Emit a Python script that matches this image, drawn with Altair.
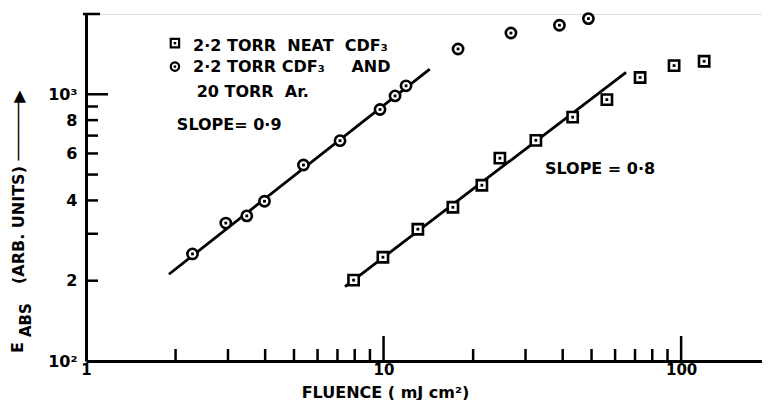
import altair as alt
import pandas as pd

# ---- data ----
# 2.2 Torr CDF3 + 20 Torr Ar (circles)
circ_x = [2.28, 2.95, 3.47, 3.98, 5.38, 7.14, 9.73, 10.93, 11.9, 17.8, 26.8, 39.0, 48.8]
circ_y = [252, 329, 350, 397, 543, 670, 877, 986, 1076, 1479, 1697, 1815, 1922]
# 2.2 Torr neat CDF3 (squares)
sq_x = [7.93, 9.95, 13.04, 17.1, 21.4, 24.6, 32.5, 43.2, 56.3, 72.8, 94.7, 119.5]
sq_y = [201, 245, 312, 377, 456, 576, 672, 821, 955, 1156, 1281, 1330]
# fitted lines (end points)
fit_circ_x = [1.90, 14.3]
fit_circ_y = [211.5, 1243]
fit_sq_x = [7.42, 65.3]
fit_sq_y = [190, 1208]

# axis ticks / labels
x_label_vals = [1, 10, 100]
x_minor = [2, 3, 4, 5, 6, 7, 8, 9, 20, 30, 40, 50, 60, 70, 80, 90]
x_major = [10, 100]
y_label_vals = [100, 200, 400, 600, 800, 1000]
y_minor = [200, 300, 400, 500, 600, 700, 800, 900]
y_major = [1000]
y_top = [2000]

# legend / annotations
leg_sym_x = [1.99, 1.99]
leg_sym_y = [1555, 1270]
leg_sym_s = ["s", "c"]
ann_text = ["2·2 TORR\u00a0 NEAT\u00a0 CDF₃", "2·2 TORR CDF₃", "AND", "20 TORR\u00a0 Ar.", "SLOPE= 0·9", "SLOPE = 0·8"]
ann_x = [2.29, 2.29, 7.8, 2.355, 2.02, 34.85]
ann_y = [1521, 1262, 1262, 1022, 769, 525]

x_title = "FLUENCE ( mJ cm²)"
y_title_e = "E"
y_title_sub = "ABS"
y_title_rest = "(ARB. UNITS) ──────▶"

# ---- chart ----
W, H = 676, 347
FONT = "DejaVu Sans"
xs = alt.Scale(type="log", domain=[1, 187])
ys = alt.Scale(type="log", domain=[100, 2000])

x_axis = alt.Axis(
    values=x_label_vals, format="d", ticks=False, grid=False,
    domainWidth=3, domainColor="black", labelFlush=False, labelOverlap=False,
    labelFont=FONT, labelFontSize=15, labelFontWeight="bold", labelColor="black",
    labelPadding=1, title=x_title, titleX=299, titleY=39, titleBaseline="bottom",
    titleAlign="center", titleFont=FONT, titleFontSize=16, titleFontWeight="bold",
    titleColor="black")
y_axis = alt.Axis(
    values=y_label_vals, ticks=False, grid=False, domainWidth=3, domainColor="black",
    labelExpr="datum.value == 1000 ? '10³' : datum.value == 100 ? '10²' : format(datum.value / 100, 'd')",
    labelFlush=False, labelOverlap=False,
    labelFont=FONT, labelFontSize=16, labelFontWeight="bold", labelColor="black",
    labelPadding=9, title=None)


def X(field):
    return alt.X(field, scale=xs, axis=x_axis, title=x_title)


def Y(field):
    return alt.Y(field, scale=ys, axis=y_axis, title=None)


base = alt.Chart(pd.DataFrame({"x": [1], "y": [100]})).mark_point(opacity=0).encode(
    x=X("x:Q"), y=Y("y:Q"))


def xr(vals, length):
    return alt.Chart(pd.DataFrame({"x": vals})).mark_rule(color="black", strokeWidth=2.5).encode(
        x=X("x:Q"), y=alt.value(H), y2=alt.value(H - length))


def yr(vals, x0, length):
    return alt.Chart(pd.DataFrame({"y": vals})).mark_rule(color="black", strokeWidth=2.5).encode(
        y=Y("y:Q"), x=alt.value(x0), x2=alt.value(x0 + length))


lines_df = pd.DataFrame({
    "x": fit_circ_x + fit_sq_x,
    "y": fit_circ_y + fit_sq_y,
    "g": ["c", "c", "s", "s"],
})
lines = alt.Chart(lines_df).mark_line(color="black", strokeWidth=2.8).encode(
    x=X("x:Q"), y=Y("y:Q"), detail="g:N")

pts_df = pd.DataFrame({
    "x": circ_x + sq_x,
    "y": circ_y + sq_y,
    "s": ["c"] * len(circ_x) + ["s"] * len(sq_x),
})
shape_scale = alt.Scale(domain=["c", "s"], range=["circle", "square"])
pts = alt.Chart(pts_df).mark_point(filled=False, fill="white", fillOpacity=1, color="black",
                                   strokeWidth=2.6, size=105, opacity=1).encode(
    x=X("x:Q"), y=Y("y:Q"), shape=alt.Shape("s:N", scale=shape_scale, legend=None))
dots = alt.Chart(pts_df).mark_point(filled=True, color="black", size=8, shape="square", opacity=1).encode(
    x=X("x:Q"), y=Y("y:Q"))

leg_df = pd.DataFrame({"x": leg_sym_x, "y": leg_sym_y, "s": leg_sym_s})
leg = alt.Chart(leg_df).mark_point(filled=False, fill="white", fillOpacity=1, color="black",
                                   strokeWidth=2.2, size=70, opacity=1).encode(
    x=X("x:Q"), y=Y("y:Q"), shape=alt.Shape("s:N", scale=shape_scale, legend=None))
leg_dots = alt.Chart(leg_df).mark_point(filled=True, color="black", size=6, shape="square", opacity=1).encode(
    x=X("x:Q"), y=Y("y:Q"))

ann_df = pd.DataFrame({"x": ann_x, "y": ann_y, "t": ann_text})
ann = alt.Chart(ann_df).mark_text(align="left", baseline="middle", font=FONT, fontSize=16,
                                  fontWeight="bold", color="black").encode(
    x=X("x:Q"), y=Y("y:Q"), text="t:N")


def ytxt(t, x, y, size):
    return alt.Chart(pd.DataFrame({"t": [t]})).mark_text(
        align="left", baseline="middle", angle=270, font=FONT, fontSize=size,
        fontWeight="bold", color="black").encode(text="t:N", x=alt.value(x), y=alt.value(y))


chart = alt.layer(
    base,
    xr(x_minor, 12), xr(x_major, 25),
    yr(y_minor, 0, 12), yr(y_major, 0, 22), yr(y_top, -3, 17),
    lines, pts, dots, leg, leg_dots, ann,
    ytxt(y_title_e, -68, 339, 16),
    ytxt(y_title_sub, -60, 323, 15),
    ytxt(y_title_rest, -67, 270, 16),
).properties(
    width=W, height=H,
    autosize=alt.AutoSizeParams(type="none"),
    padding={"left": 78, "top": 6, "right": 0, "bottom": 39},
).configure_view(stroke=None).configure(background="white")

chart.save("out.html", embed_options={"renderer": "svg", "actions": False})
